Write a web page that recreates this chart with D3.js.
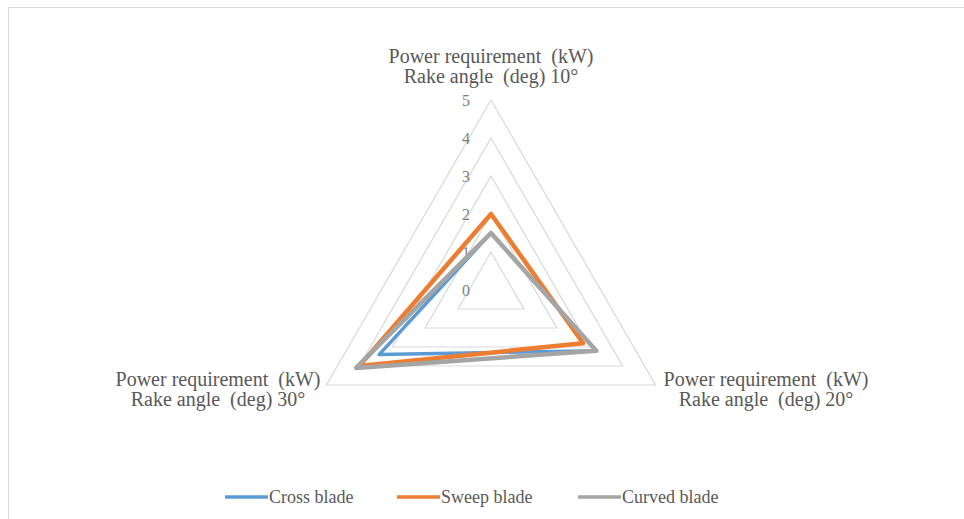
<!DOCTYPE html>
<html lang="en">

<head>
    <script src='https://d3js.org/d3.v7.min.js'></script>
    <style>
        body { margin: 0; background: #fff; }
    </style>
</head>

<body>
    <div class="chart"></div>

    <script>
        // Data
        const categories = ["10°", "20°", "30°"];
        const levels = [0, 1, 2, 3, 4, 5];
        const crossBlade = [1.5, 3.2, 3.4];
        const sweepBlade = [2.0, 2.8, 4.0];
        const curvedBlade = [1.5, 3.2, 4.1];
        const seriesNames = ["Cross blade", "Sweep blade", "Curved blade"];

        const colors = ["#5b9bd5", "#ed7d31", "#a5a5a5"];
        const widths = [3.5, 4.5, 4.5];
        const font = "'Liberation Serif', 'Times New Roman', serif";

        const width = 964;
        const height = 519;
        const cx = 491;
        const cy = 290;

        const svg = d3.select(".chart")
            .append("svg")
            .attr("width", width)
            .attr("height", height)
            .style("font-family", font);

        // outer frame
        svg.append("rect")
            .attr("x", 8.5).attr("y", 7.5)
            .attr("width", 960).attr("height", 530)
            .attr("fill", "none").attr("stroke", "#d9d9d9");

        const r = d3.scaleLinear().domain([0, 5]).range([0, 190]);
        // angle for each category, clockwise from the top
        const angle = d3.scaleLinear().domain([0, categories.length]).range([-Math.PI / 2, 1.5 * Math.PI]);

        const g = svg.append("g").attr("transform", `translate(${cx},${cy})`);

        const radar = d3.lineRadial()
            .angle((d, i) => angle(i) + Math.PI / 2)
            .radius(d => r(d))
            .curve(d3.curveLinearClosed);

        // grid rings
        g.selectAll(".ring")
            .data(levels.slice(1))
            .enter().append("path")
            .attr("d", lv => radar(categories.map(() => lv)))
            .attr("fill", "none")
            .attr("stroke", "#d9d9d9")
            .attr("stroke-width", 1.2);

        // level labels
        g.selectAll(".lvl")
            .data(levels)
            .enter().append("text")
            .attr("x", -25)
            .attr("y", d => -r(d))
            .attr("dy", "0.35em")
            .attr("text-anchor", "middle")
            .attr("fill", "#7f7f7f")
            .style("font-size", "16px")
            .text(d => d);

        // series
        const allSeries = [crossBlade, sweepBlade, curvedBlade];
        g.selectAll(".series")
            .data(allSeries)
            .enter().append("path")
            .attr("d", d => radar(d))
            .attr("fill", "none")
            .attr("stroke", (d, i) => colors[i])
            .attr("stroke-width", (d, i) => widths[i])
            .attr("stroke-linejoin", "round");

        // category labels
        const labelPos = [
            { x: 0, y: -227, anchor: "middle" },
            { x: 275, y: 96, anchor: "middle" },
            { x: -273, y: 96, anchor: "middle" }
        ];
        categories.forEach((c, i) => {
            const t = g.append("text")
                .attr("x", labelPos[i].x)
                .attr("y", labelPos[i].y)
                .attr("text-anchor", labelPos[i].anchor)
                .attr("fill", "#595959")
                .style("font-size", "20px")
                .style("white-space", "pre");
            t.append("tspan").attr("x", labelPos[i].x).text("Power requirement  (kW)");
            t.append("tspan").attr("x", labelPos[i].x).attr("dy", 20).text("Rake angle  (deg) " + c);
        });

        // legend
        const legendX = [225, 397, 578];
        const legend = svg.append("g");
        seriesNames.forEach((name, i) => {
            legend.append("line")
                .attr("x1", legendX[i]).attr("x2", legendX[i] + 43)
                .attr("y1", 497).attr("y2", 497)
                .attr("stroke", colors[i]).attr("stroke-width", 3.5);
            legend.append("text")
                .attr("x", legendX[i] + 44)
                .attr("y", 497)
                .attr("dy", "0.35em")
                .attr("fill", "#595959")
                .style("font-size", "18px")
                .text(name);
        });
    </script>
</body>

</html>
